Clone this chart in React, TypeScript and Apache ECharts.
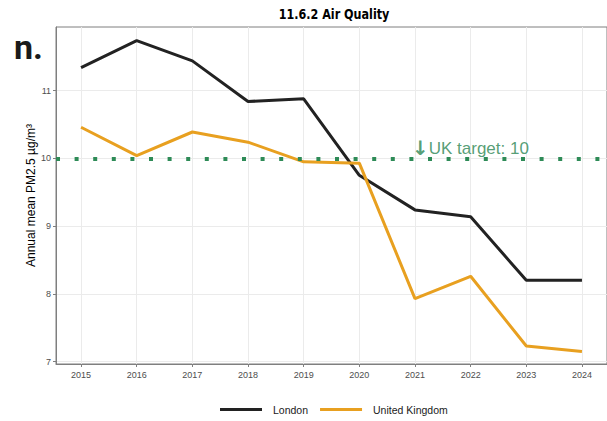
import React, { useEffect, useRef } from "react";
import * as echarts from "echarts";

const years = [2015, 2016, 2017, 2018, 2019, 2020, 2021, 2022, 2023, 2024];
const london = [11.34, 11.74, 11.44, 10.84, 10.88, 9.75, 9.24, 9.14, 8.2, 8.2];
const unitedKingdom = [10.46, 10.04, 10.39, 10.24, 9.95, 9.93, 7.93, 8.26, 7.23, 7.15];
const yTicks = [7, 8, 9, 10, 11];
const targetValue = 10;
const targetYear = 2021;
const targetLabel = "UK target: 10";
const seriesNames = ["London", "United Kingdom"];
const titleText = "11.6.2 Air Quality";
const yAxisTitle = "Annual mean PM2.5 \u00b5g/m\u00b3";

const FONT = "'Liberation Sans', Arial, sans-serif";

export default function App() {
  const ref = useRef<HTMLDivElement>(null);

  useEffect(() => {
    if (!ref.current) return;
    const chart = echarts.init(ref.current, null, { renderer: "svg" });
    chart.setOption({
      animation: false,
      backgroundColor: "#ffffff",
      textStyle: { fontFamily: FONT },
      grid: {
        left: 56,
        right: -1,
        top: 27,
        bottom: 57,
        show: true,
        borderColor: "#7f7f7f",
        borderWidth: 1,
        backgroundColor: "transparent",
      },
      legend: {
        data: seriesNames,
        top: 404,
        left: 220,
        icon: "rect",
        itemWidth: 42,
        itemHeight: 3,
        itemGap: 12,
        padding: 0,
        textStyle: { fontSize: 10.5, color: "#1a1a1a", fontFamily: FONT, padding: [0, 0, 0, 6] },
      },
      xAxis: {
        type: "value",
        min: 2014.55,
        max: 2024.45,
        axisLine: { show: true, lineStyle: { color: "#7f7f7f", width: 1 } },
        axisTick: { show: true, length: 3, customValues: years, lineStyle: { color: "#7f7f7f" } },
        axisLabel: {
          color: "#4d4d4d",
          fontSize: 9,
          margin: 6,
          fontFamily: FONT,
          customValues: years,
          formatter: (v: number) => String(v),
        },
        splitLine: { show: true, lineStyle: { color: "#ebebeb", width: 1 } },
      },
      yAxis: {
        type: "value",
        min: 6.965,
        max: 11.94,
        name: yAxisTitle,
        nameLocation: "middle",
        nameGap: 19,
        nameMoveOverlap: false,
        nameTextStyle: { fontSize: 12, color: "#000000", fontFamily: FONT },
        axisLine: { show: true, lineStyle: { color: "#7f7f7f", width: 1 } },
        axisTick: { show: true, length: 3, customValues: yTicks, lineStyle: { color: "#7f7f7f" } },
        axisLabel: {
          color: "#4d4d4d",
          fontSize: 9,
          margin: 5,
          fontFamily: FONT,
          customValues: yTicks,
          formatter: (v: number) => String(v),
        },
        splitLine: { show: true, lineStyle: { color: "#ebebeb", width: 1 } },
      },
      series: [
        {
          name: seriesNames[0],
          type: "line",
          data: years.map((y, i) => [y, london[i]]),
          symbol: "none",
          lineStyle: { color: "#222222", width: 3 },
          itemStyle: { color: "#222222" },
          z: 3,
        },
        {
          name: seriesNames[1],
          type: "line",
          data: years.map((y, i) => [y, unitedKingdom[i]]),
          symbol: "none",
          lineStyle: { color: "#E8A020", width: 3 },
          itemStyle: { color: "#E8A020" },
          z: 3,
        },
        {
          name: "target",
          type: "line",
          data: [],
          z: 4,
          markLine: {
            silent: true,
            symbol: ["none", "none"],
            label: { show: false },
            lineStyle: { color: "#2E8B57", width: 4, type: [4, 14.6], opacity: 1 },
            data: [{ yAxis: targetValue }],
          },
        },
        {
          name: "annotation",
          type: "scatter",
          data: [[targetYear, targetValue]],
          symbolSize: 0,
          silent: true,
          z: 5,
          label: {
            show: true,
            position: "right",
            distance: 0,
            offset: [-3, -10],
            formatter: "{a|\u2193}{b|" + targetLabel + "}",
            rich: {
              a: { fontSize: 20, fontWeight: "bold", color: "#2A8552", fontFamily: "'DejaVu Sans', sans-serif" },
              b: { fontSize: 17, color: "#2A8552", fontFamily: FONT },
            },
          },
        },
      ],
      graphic: [
        {
          type: "text",
          x: 334,
          y: 14,
          scaleX: 0.8,
          style: {
            text: titleText,
            fontSize: 14,
            fontWeight: "bold",
            fill: "#000000",
            align: "center",
            verticalAlign: "middle",
            fontFamily: "'DejaVu Sans', sans-serif",
          },
        },
        {
          type: "text",
          left: 14,
          top: 30,
          style: {
            text: "n.",
            fontSize: 34,
            fontWeight: "bold",
            fill: "#1a1a1a",
            fontFamily: "Roboto, sans-serif",
          },
        },
      ],
    });
    return () => chart.dispose();
  }, []);

  return (
    <div
      ref={ref}
      style={{ position: "fixed", left: 0, top: 0, width: 607, height: 421 }}
    />
  );
}
